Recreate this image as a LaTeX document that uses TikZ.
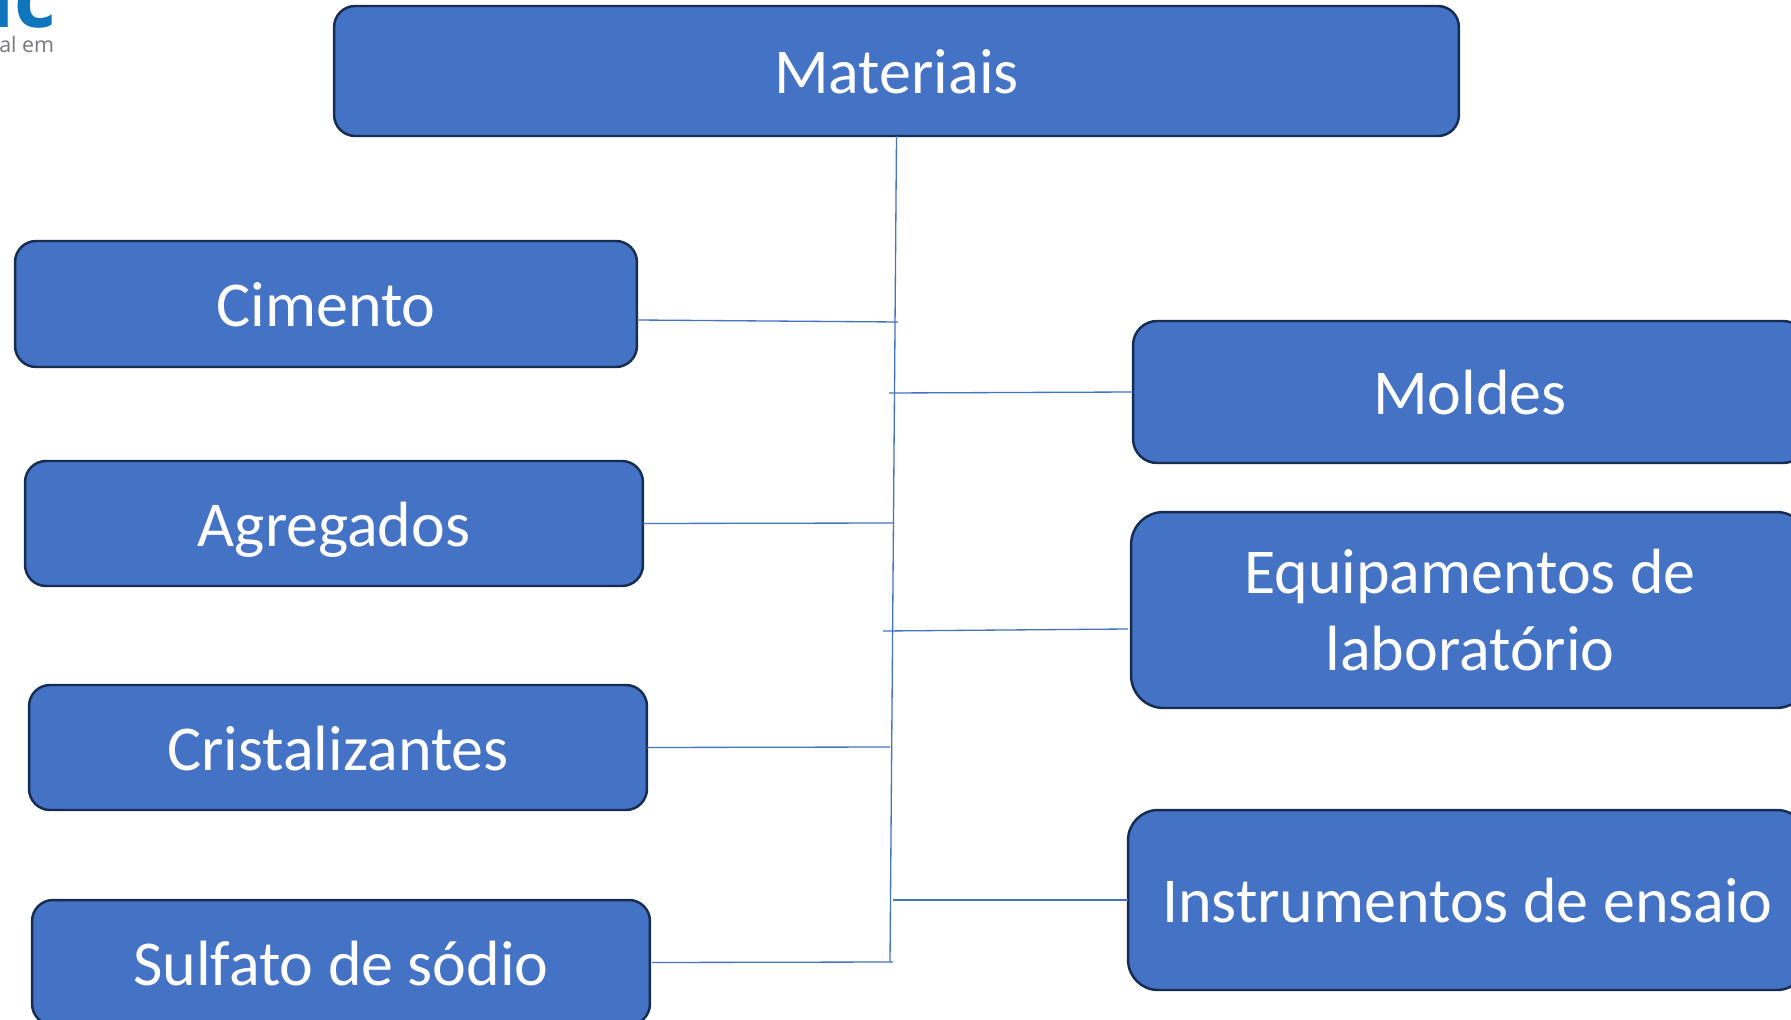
\documentclass[tikz,border=0pt]{standalone}
\usepackage{fontspec}
\setmainfont{Carlito}
\newfontfamily\logofont{Open Sans}
\usepackage{tikz}
\usetikzlibrary{positioning}
\definecolor{boxblue}{HTML}{4472C4}
\definecolor{boxedge}{HTML}{172C51}
\definecolor{logoblue}{HTML}{0F75BC}
\definecolor{logogray}{HTML}{77787B}
\tikzset{
    matbox/.style={draw=boxedge, fill=boxblue, line width=1.4pt, rounded corners=0.42cm, text=white, align=center, inner sep=0pt, outer sep=0pt, font=\fontsize{36.4}{43.6}\selectfont},
    oneline/.style={text height=34pt, text depth=8pt},
    linkline/.style={draw=boxblue, line width=0.75pt}
}
\begin{document}
\begin{tikzpicture}[x=0.02cm, y=-0.02cm]
    \useasboundingbox (0,0) rectangle (1791,1020);
    \clip (0,0) rectangle (1791,1020);
    % logo fragment
    \node[anchor=base east, inner sep=0pt, text=logoblue, font=\logofont\bfseries\fontsize{46}{46}\selectfont] (logomark) at (56,27.5) {ac};
    \node[anchor=base east, inner sep=0pt, text=logogray, font=\logofont\fontsize{12.2}{12}\selectfont] (logotext) at (54.5,52.5) {nal em};
    % boxes
    \node[matbox, oneline, minimum width=22.5cm, minimum height=2.6cm] (materiais) at (896.5,71) {Materiais};
    \node[matbox, oneline, minimum width=12.44cm, minimum height=2.52cm] (cimento) at (326,304) {Cimento};
    \node[matbox, oneline, minimum width=12.36cm, minimum height=2.5cm] (agregados) at (334,523.5) {Agregados};
    \node[matbox, oneline, minimum width=12.36cm, minimum height=2.5cm] (cristalizantes) at (338,747.5) {Cristalizantes};
    \node[matbox, oneline, minimum width=12.36cm, minimum height=2.5cm] (sulfato) at (341,962.5) {Sulfato de sódio};
    \node[matbox, oneline, minimum width=13.48cm, minimum height=2.84cm, rounded corners=0.48cm] (moldes) at (1470,392) {Moldes};
    \node[matbox, minimum width=13.56cm, minimum height=3.92cm, rounded corners=0.65cm] (equipamentos) at (1470,610) {Equipamentos de\\laboratório};
    \node[matbox, oneline, minimum width=13.58cm, minimum height=3.6cm, rounded corners=0.6cm] (instrumentos) at (1467.5,900) {Instrumentos de ensaio};
    % connector ends
    \coordinate (trunkend) at (890,962);
    \coordinate (cimentoend) at (898,322);
    \coordinate (moldesend) at (889,393);
    \coordinate (agregadosend) at (893,523);
    \coordinate (equipamentosend) at (883,631);
    \coordinate (cristalizantesend) at (890,747);
    \coordinate (instrumentosend) at (893,900);
    \coordinate (sulfatoend) at (893,962);
    % connectors
    \draw[linkline] (materiais.south) -- (trunkend);
    \draw[linkline] ([yshift=-0.32cm]cimento.east) -- (cimentoend);
    \draw[linkline] (moldes.west) -- (moldesend);
    \draw[linkline] (agregados.east) -- (agregadosend);
    \draw[linkline] ([xshift=-0.06cm, yshift=-0.38cm]equipamentos.west) -- (equipamentosend);
    \draw[linkline] (cristalizantes.east) -- (cristalizantesend);
    \draw[linkline] (instrumentos.west) -- (instrumentosend);
    \draw[linkline] ([xshift=0.04cm]sulfato.east) -- (sulfatoend);
\end{tikzpicture}
\end{document}
